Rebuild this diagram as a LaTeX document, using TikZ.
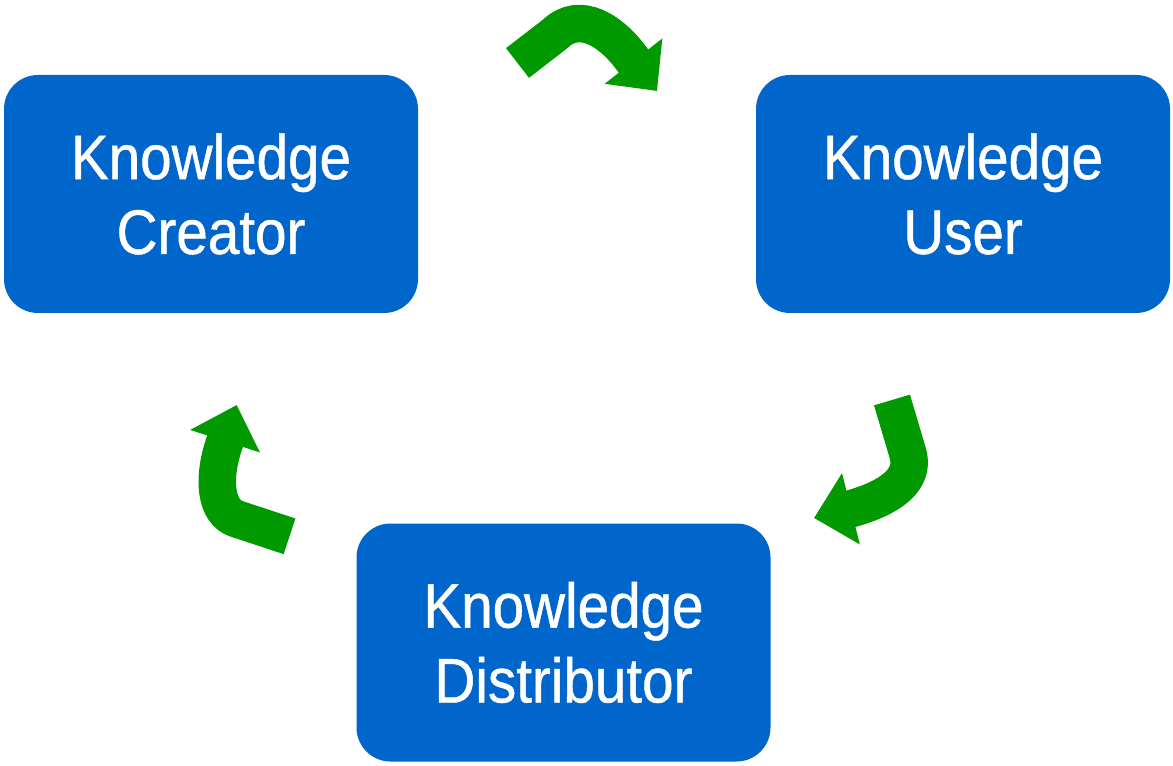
\documentclass[tikz,border=0pt]{standalone}
\usepackage{fontspec}
\setmainfont{Liberation Sans}[FakeStretch=0.9,FakeBold=0.8]
\usetikzlibrary{arrows.meta}
\definecolor{boxblue}{HTML}{0066CC}
\definecolor{arrowgreen}{HTML}{009900}
\tikzset{
  rolebox/.style={rectangle,rounded corners=0.34cm,fill=boxblue,text=white,
    minimum width=4.14cm,minimum height=2.38cm,inner sep=0pt,align=center,
    font=\fontsize{17.9}{21.3}\selectfont},
  cyclearrow/.style={arrowgreen,line width=0.375cm,line cap=butt,
    -{Triangle[width=0.71cm,length=0.38cm]}}
}
\begin{document}
\begin{tikzpicture}
\useasboundingbox (0,0) rectangle (11.73,7.65);
\node[rolebox] (creator) at (2.11,5.71) {Knowledge\\Creator};
\node[rolebox] (user) at (9.63,5.71) {Knowledge\\User};
\node[rolebox] (distributor) at (5.635,1.225) {Knowledge\\Distributor};
% arrow ends
\coordinate (cu tail) at (5.175,7.02);
\coordinate (cu tip) at (6.57,6.74);
\coordinate (ud tail) at (8.92,3.65);
\coordinate (ud tip) at (8.14,2.47);
\coordinate (dc tail) at (2.895,2.287);
\coordinate (dc tip) at (2.367,3.60);
\draw[cyclearrow] (cu tail) -- (5.55,7.31) .. controls (5.80,7.55) and (6.12,7.34) .. (6.33,7.045) -- (cu tip);
\draw[cyclearrow] (ud tail) -- (9.08,3.11) .. controls (9.15,2.85) and (8.90,2.67) .. (8.50,2.56) -- (ud tip);
\draw[cyclearrow] (dc tail) -- (2.37,2.46) .. controls (2.15,2.53) and (2.12,2.87) .. (2.25,3.237) -- (dc tip);
\end{tikzpicture}
\end{document}
